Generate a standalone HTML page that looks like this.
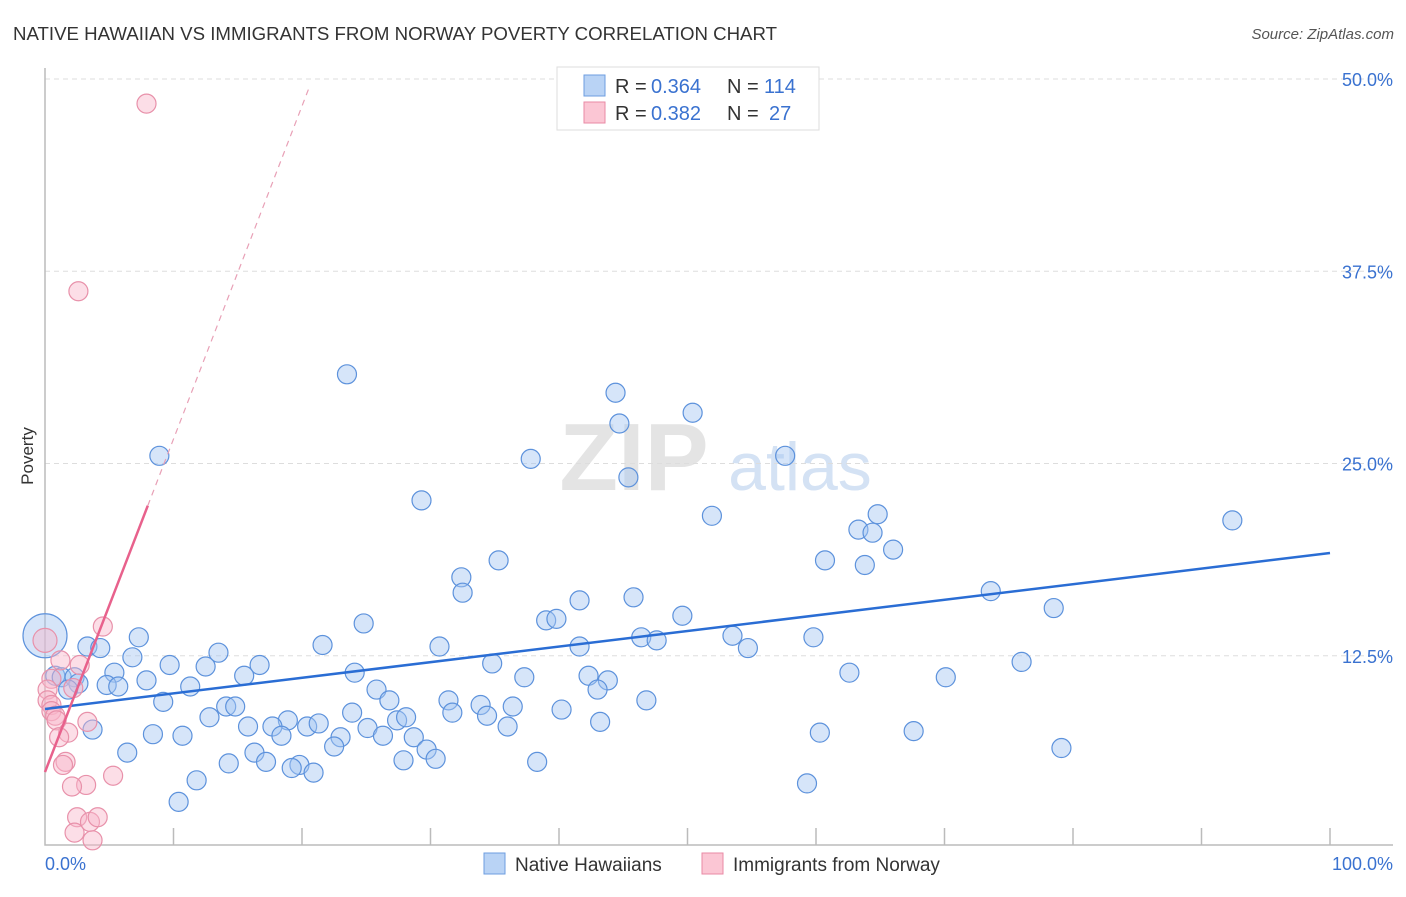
<!DOCTYPE html>
<html><head><meta charset="utf-8"><style>
body{margin:0;background:#fff;font-family:"Liberation Sans",sans-serif}
svg text{font-family:"Liberation Sans",sans-serif}
</style></head><body>
<svg id="chart" width="1406" height="892" xmlns="http://www.w3.org/2000/svg">
<text x="13" y="40" font-size="18" fill="#333" textLength="764" lengthAdjust="spacingAndGlyphs">NATIVE HAWAIIAN VS IMMIGRANTS FROM NORWAY POVERTY CORRELATION CHART</text>
<text x="1394" y="39" font-size="15" fill="#555" text-anchor="end" font-style="italic">Source: ZipAtlas.com</text>
<g><text x="634" y="490" font-size="96" fill="#e4e4e4" text-anchor="middle" font-family="Liberation Serif" font-weight="bold">ZIP</text><text x="800" y="490" font-size="68" fill="#d4e2f4" text-anchor="middle">atlas</text></g>
<text transform="translate(33,456) rotate(-90)" font-size="17" fill="#333" text-anchor="middle">Poverty</text>
<g id="grid"></g><g id="axes"></g><g id="marks"></g>
<g>
<rect x="557" y="67" width="262" height="63" fill="#fff" stroke="#ddd"/>
<rect x="584" y="75" width="21" height="21" fill="#b9d3f5" stroke="#6d9ee0"/>
<rect x="584" y="102" width="21" height="21" fill="#fbc6d4" stroke="#e88aa5"/>
<text x="615" y="93" font-size="20" fill="#333">R =</text><text x="651" y="93" font-size="20" fill="#3a72d0">0.364</text>
<text x="727" y="93" font-size="20" fill="#333">N =</text><text x="764" y="93" font-size="20" fill="#3a72d0">114</text>
<text x="615" y="120" font-size="20" fill="#333">R =</text><text x="651" y="120" font-size="20" fill="#3a72d0">0.382</text>
<text x="727" y="120" font-size="20" fill="#333">N =</text><text x="769" y="120" font-size="20" fill="#3a72d0">27</text>
</g>
<g>
<rect x="484" y="853" width="21" height="21" fill="#b9d3f5" stroke="#6d9ee0"/>
<text x="515" y="871" font-size="19" fill="#333">Native Hawaiians</text>
<rect x="702" y="853" width="21" height="21" fill="#fbc6d4" stroke="#e88aa5"/>
<text x="733" y="871" font-size="19" fill="#333">Immigrants from Norway</text>
</g>
</svg>
<script>
const blueX=[23.5,44.4,50.4,44.7,8.9,37.8,57.6,45.4,29.3,51.9,64.8,63.3,64.4,92.4,66.0,60.7,35.3,63.8,32.4,32.5,73.6,41.6,45.8,78.5,49.6,39.0,39.8,24.8,7.3,46.4,53.5,47.6,59.8,3.3,4.3,21.6,30.7,41.6,54.7,13.5,6.8,9.7,16.7,12.5,34.8,76.0,5.4,15.5,24.1,62.6,0.8,1.3,2.3,7.9,42.3,37.3,43.8,70.1,11.3,2.6,4.8,5.7,25.8,43.0,1.8,26.8,9.2,31.4,14.1,14.8,33.9,46.8,36.4,23.9,31.7,34.4,40.2,12.8,18.9,27.4,28.1,43.2,3.7,15.8,17.7,20.4,21.3,25.1,36.0,8.4,10.7,60.3,67.6,18.4,23.0,26.3,28.7,22.5,6.4,16.3,29.7,79.1,30.4,27.9,14.3,17.2,19.8,19.2,38.3,20.9,11.8,59.3,10.4,0];
const blueY=[30.8,29.6,28.3,27.6,25.5,25.3,25.5,24.1,22.6,21.6,21.7,20.7,20.5,21.3,19.4,18.7,18.7,18.4,17.6,16.6,16.7,16.1,16.3,15.6,15.1,14.8,14.9,14.6,13.7,13.7,13.8,13.5,13.7,13.1,13.0,13.2,13.1,13.1,13.0,12.7,12.4,11.9,11.9,11.8,12.0,12.1,11.4,11.2,11.4,11.4,11.2,11.1,11.1,10.9,11.2,11.1,10.9,11.1,10.5,10.7,10.6,10.5,10.3,10.3,10.3,9.6,9.5,9.6,9.2,9.2,9.3,9.6,9.2,8.8,8.8,8.6,9.0,8.5,8.3,8.3,8.5,8.2,7.7,7.9,7.9,7.9,8.1,7.8,7.9,7.4,7.3,7.5,7.6,7.3,7.2,7.3,7.2,6.6,6.2,6.2,6.4,6.5,5.8,5.7,5.5,5.6,5.4,5.2,5.6,4.9,4.4,4.2,3.0,13.8];
const pinkX=[7.9,2.6,4.5,0,1.2,2.7,0.5,0.2,2.2,0.2,0.5,0.5,0.8,0.9,3.3,1.8,1.1,1.6,1.4,5.3,3.2,2.1,2.5,3.5,4.1,2.3,3.7];
const pinkY=[48.4,36.2,14.4,13.5,12.2,11.9,11.0,10.3,10.4,9.6,9.3,8.9,8.6,8.3,8.2,7.5,7.2,5.6,5.4,4.7,4.1,4.0,2.0,1.7,2.0,1.0,0.5];
const blueTrend=[9.04,19.18];
const pinkTrend=[4.94,2.165];
const yTicks=[12.5,25,37.5,50];
const yTickLabels=["12.5%","25.0%","37.5%","50.0%"];
const X0=45,X1=1330,YB=848,PY=15.38;
const sx=v=>X0+v*(X1-X0)/100, sy=v=>YB-v*PY;
const NS="http://www.w3.org/2000/svg";
function mk(t,a,p){const e=document.createElementNS(NS,t);for(const k in a)e.setAttribute(k,a[k]);document.getElementById(p).appendChild(e);return e;}
yTicks.forEach((t,i)=>{
 const g=mk('line',{x1:45,x2:1393,y1:sy(t),y2:sy(t),stroke:'#ddd','stroke-dasharray':'5,4'},'grid');
 
 
 const l=mk('text',{x:1393,y:sy(t)+7,'font-size':18,fill:'#3a72d0','text-anchor':'end'},'grid');
 
 
 l.textContent=yTickLabels[i];
});
const ax=mk('path',{d:'M45,68V845H1393',fill:'none',stroke:'#bbb','stroke-width':1.5},'axes');


for(let i=1;i<=10;i++){const t=mk('line',{x1:sx(i*10),x2:sx(i*10),y1:828,y2:845,stroke:'#bbb','stroke-width':1.5},'axes');
 
 }
const xl=mk('text',{x:45,y:870,'font-size':18,fill:'#3a72d0'},'axes');xl.textContent='0.0%';


const xr=mk('text',{x:1393,y:870,'font-size':18,fill:'#3a72d0','text-anchor':'end'},'axes');xr.textContent='100.0%';


blueX.forEach((x,i)=>{const c=mk('circle',{cx:sx(x),cy:sy(blueY[i]),r:i==blueX.length-1?22:9.5,fill:'rgba(165,198,242,0.45)',stroke:'#5d92dc','stroke-width':1.2},'marks');
 
 });
pinkX.forEach((x,i)=>{const c=mk('circle',{cx:sx(x),cy:sy(pinkY[i]),r:i==3?12:9.5,fill:'rgba(248,182,202,0.45)',stroke:'#e891aa','stroke-width':1.2},'marks');
 
 });
const bt=mk('line',{x1:sx(0),y1:sy(blueTrend[0]),x2:sx(100),y2:sy(blueTrend[1]),stroke:'#2a6dd4','stroke-width':2.5},'marks');


const pe=8.0,pd=20.5;
const pt=mk('line',{x1:sx(0),y1:sy(pinkTrend[0]),x2:sx(pe),y2:sy(pinkTrend[0]+pinkTrend[1]*pe),stroke:'#e8618c','stroke-width':2.5},'marks');


const pdl=mk('line',{x1:sx(pe),y1:sy(pinkTrend[0]+pinkTrend[1]*pe),x2:sx(pd),y2:sy(pinkTrend[0]+pinkTrend[1]*pd),stroke:'#e8a0b6','stroke-width':1.2,'stroke-dasharray':'6,5'},'marks');


</script>
</body></html>
